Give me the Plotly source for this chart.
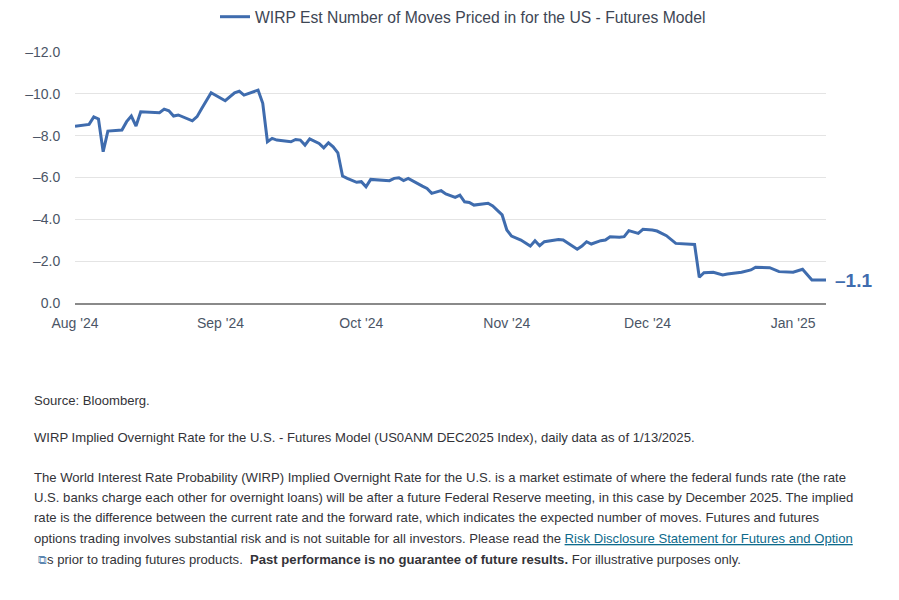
import plotly.graph_objects as go

# ── Data ────────────────────────────────────────────────────────────────────
dates = [
    "2024-08-01", "2024-08-04", "2024-08-05", "2024-08-06", "2024-08-07", "2024-08-08",
    "2024-08-11", "2024-08-12", "2024-08-13", "2024-08-14", "2024-08-15", "2024-08-19",
    "2024-08-20", "2024-08-21", "2024-08-22", "2024-08-23", "2024-08-26", "2024-08-27",
    "2024-08-28", "2024-08-30", "2024-09-02", "2024-09-04", "2024-09-05", "2024-09-06",
    "2024-09-09", "2024-09-10", "2024-09-11", "2024-09-12", "2024-09-13", "2024-09-16",
    "2024-09-17", "2024-09-18", "2024-09-19", "2024-09-20", "2024-09-22", "2024-09-23",
    "2024-09-24", "2024-09-25", "2024-09-26", "2024-09-27", "2024-09-28", "2024-09-30",
    "2024-10-01", "2024-10-02", "2024-10-03", "2024-10-05", "2024-10-07", "2024-10-08",
    "2024-10-09", "2024-10-10", "2024-10-11", "2024-10-14", "2024-10-15", "2024-10-16",
    "2024-10-18", "2024-10-19", "2024-10-21", "2024-10-22", "2024-10-23", "2024-10-24",
    "2024-10-25", "2024-10-28", "2024-10-29", "2024-10-31", "2024-11-01", "2024-11-02",
    "2024-11-04", "2024-11-06", "2024-11-07", "2024-11-08", "2024-11-09", "2024-11-12",
    "2024-11-13", "2024-11-16", "2024-11-17", "2024-11-18", "2024-11-19", "2024-11-21",
    "2024-11-22", "2024-11-23", "2024-11-25", "2024-11-26", "2024-11-27", "2024-11-29",
    "2024-11-30", "2024-12-02", "2024-12-03", "2024-12-04", "2024-12-05", "2024-12-07",
    "2024-12-11", "2024-12-12", "2024-12-13", "2024-12-15", "2024-12-17", "2024-12-18",
    "2024-12-20", "2024-12-21", "2024-12-23", "2024-12-24", "2024-12-27", "2024-12-29",
    "2025-01-01", "2025-01-03", "2025-01-05", "2025-01-08",
]
moves = [
    -8.45, -8.54, -8.90, -8.80, -7.23, -8.22,
    -8.27, -8.67, -8.94, -8.46, -9.14, -9.10,
    -9.27, -9.19, -8.94, -8.99, -8.71, -8.91,
    -9.30, -10.05, -9.67, -10.05, -10.13, -9.94,
    -10.18, -9.55, -7.71, -7.87, -7.79, -7.71,
    -7.82, -7.79, -7.55, -7.85, -7.63, -7.42,
    -7.66, -7.47, -7.18, -6.07, -5.96, -5.77,
    -5.80, -5.56, -5.91, -5.88, -5.85, -5.96,
    -5.99, -5.85, -5.96, -5.59, -5.48, -5.24,
    -5.37, -5.21, -5.05, -5.16, -4.84, -4.81,
    -4.68, -4.77, -4.64, -4.21, -3.49, -3.20,
    -3.01, -2.72, -2.98, -2.74, -2.93, -3.04,
    -3.01, -2.57, -2.72, -2.93, -2.82, -2.98,
    -3.01, -3.17, -3.14, -3.17, -3.46, -3.33,
    -3.52, -3.49, -3.44, -3.33, -3.22, -2.85,
    -2.80, -1.23, -1.45, -1.47, -1.34, -1.39,
    -1.42, -1.47, -1.58, -1.71, -1.69, -1.50,
    -1.47, -1.61, -1.10, -1.10,
]
tick_dates = ["2024-08-01", "2024-09-01", "2024-10-01", "2024-11-01", "2024-12-01", "2025-01-01"]
tick_text = ["Aug '24", "Sep '24", "Oct '24", "Nov '24", "Dec '24", "Jan '25"]
y_ticks = [0, -2, -4, -6, -8, -10, -12]
y_text = ["0.0", "–2.0", "–4.0", "–6.0", "–8.0", "–10.0", "–12.0"]
series_name = "WIRP Est Number of Moves Priced in for the US - Futures Model"
last_label = "–1.1"

LINE = "#3f6cae"
AXIS_TXT = "#4b5566"
LEG_TXT = "#3e4654"
BODY_TXT = "#333338"
LINK = "#0e6b8c"

# plot area in page pixels (page has 8px body margin)
PX_L, PX_R, PX_T, PX_B = 75, 826, 52, 303


def px_to_paper(px, py):
    return (px - PX_L) / (PX_R - PX_L), (PX_B - py) / (PX_B - PX_T)


fig = go.Figure()
fig.add_trace(go.Scatter(
    x=dates, y=moves, mode="lines", name=series_name,
    line=dict(color=LINE, width=3),
))

fig.add_annotation(
    x=dates[-1], y=moves[-1], text=f"<b>{last_label}</b>",
    xref="x", yref="y", xanchor="left", yanchor="middle",
    xshift=7, yshift=-1, showarrow=False,
    font=dict(family="Liberation Sans", size=19, color=LINE),
)

# ── Footnotes ────────────────────────────────────────────────────────────────
notes = [
    (32, 400, "Source: Bloomberg."),
    (32, 437, "WIRP Implied Overnight Rate for the U.S. - Futures Model (US0ANM DEC2025 Index), daily data as of 1/13/2025."),
    (32, 477, "The World Interest Rate Probability (WIRP) Implied Overnight Rate for the U.S. is a market estimate of where the federal funds rate (the rate"),
    (32, 497, "U.S. banks charge each other for overnight loans) will be after a future Federal Reserve meeting, in this case by December 2025. The implied"),
    (32, 517, "rate is the difference between the current rate and the forward rate, which indicates the expected number of moves. Futures and futures"),
    (32, 538, "options trading involves substantial risk and is not suitable for all investors. Please read the "
              f"<span style='color:{LINK};text-decoration:underline'>Risk Disclosure Statement for Futures and Option</span>"),
    (36, 559, "<span style='color:#5b86b0;font-size:12px'>⧉</span>s prior to trading futures products.  "
              "<b>Past performance is no guarantee of future results.</b> For illustrative purposes only."),
]
for px, py, txt in notes:
    ax, ay = px_to_paper(px, py)
    fig.add_annotation(
        x=ax, y=ay, xref="paper", yref="paper", text=txt,
        xanchor="left", yanchor="middle", showarrow=False, align="left",
        font=dict(family="Liberation Sans", size=13.1, color=BODY_TXT),
    )

fig.update_xaxes(
    type="date", range=[dates[0], dates[-1]],
    tickmode="array", tickvals=tick_dates, ticktext=tick_text,
    showgrid=False, showline=True, linecolor="#8a8a8a", linewidth=2,
    ticks="outside", ticklen=6, tickcolor="rgba(0,0,0,0)",
    tickfont=dict(family="Liberation Sans", size=14, color=AXIS_TXT),
)
fig.update_yaxes(
    range=[0, -12], tickmode="array", tickvals=y_ticks, ticktext=y_text,
    showgrid=True, gridcolor="#e4e4e4", gridwidth=1, zeroline=False,
    ticks="outside", ticklen=11, tickcolor="rgba(0,0,0,0)",
    tickfont=dict(family="Liberation Sans", size=14, color=AXIS_TXT),
)
fig.update_layout(
    width=883, height=584,
    margin=dict(l=PX_L - 8, r=883 - (PX_R - 8), t=PX_T - 8, b=584 - (PX_B - 8),
                autoexpand=False),
    plot_bgcolor="white", paper_bgcolor="white",
    showlegend=True,
    legend=dict(
        orientation="h", x=px_to_paper(463, 0)[0], xanchor="center",
        y=px_to_paper(0, 17)[1], yanchor="middle",
        font=dict(family="Liberation Sans", size=15.7, color=LEG_TXT),
        itemwidth=30,
    ),
)

fig.write_html("out.html")
